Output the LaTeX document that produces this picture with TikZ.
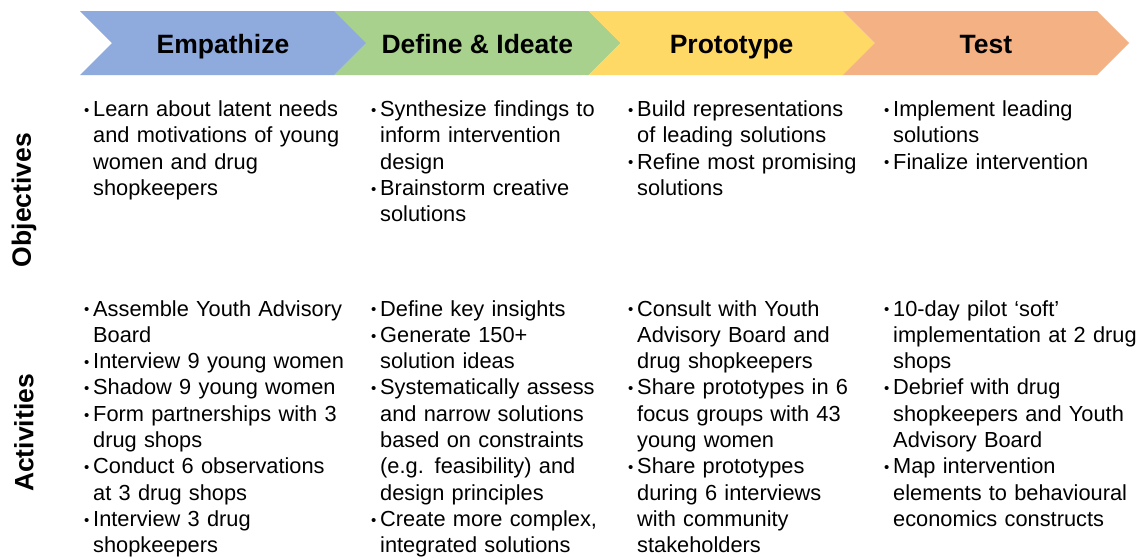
\documentclass[tikz,border=0pt]{standalone}
\usepackage{fontspec}
\setmainfont{Liberation Sans}
\definecolor{cblue}{HTML}{8FAADC}
\definecolor{cgreen}{HTML}{A9D18E}
\definecolor{cyellow}{HTML}{FFD966}
\definecolor{corange}{HTML}{F4B183}
\newcommand\bl[1]{\par\hangindent=10pt\hangafter=1\noindent\strut\makebox[10pt][l]{\hspace{1pt}\raisebox{1.2pt}{\fontsize{15}{15}\selectfont•}}#1\par}
\tikzset{
  chev/.style={draw=none},
  head/.style={anchor=base, font=\bfseries\fontsize{26.5}{30}\selectfont},
  side/.style={rotate=90, font=\bfseries\fontsize{26.5}{30}\selectfont},
  body/.style={anchor=north west, inner sep=0pt, text width=320pt, align=left,
    font=\fontsize{21.8}{26.3}\selectfont},
}
\begin{document}
\begin{tikzpicture}[x=1pt,y=-1pt]
\clip (0,0) rectangle (1139,558);
\fill[white] (0,0) rectangle (1139,558);
% chevrons
\foreach \i/\c in {0/cblue,1/cgreen,2/cyellow,3/corange}{
  \pgfmathsetmacro\xo{80+254.3*\i}
  \fill[\c] (\xo,11) -- ({\xo+254.3},11) -- ({\xo+286.3},43) -- ({\xo+254.3},75) -- (\xo,75) -- ({\xo+32},43) -- cycle;
}
\node[head] (h1) at (223,53.5) {Empathize};
\node[head] (h2) at (477.3,53.5) {Define \& Ideate};
\node[head] (h3) at (731.6,53.5) {Prototype};
\node[head] (h4) at (985.9,53.5) {Test};
% side labels
\node[side] (lobj) at (24,200) {Objectives};
\node[side] (lact) at (24,433) {Activities};
% objectives
\node[body] (o1) at (83,90) {\bl{Learn about latent needs\newline and motivations of young\newline women and drug\newline shopkeepers}};
\node[body] (o2) at (370,90) {\bl{Synthesize findings to\newline inform intervention\newline design}\bl{Brainstorm creative\newline solutions}};
\node[body] (o3) at (627,90) {\bl{Build representations\newline of leading solutions}\bl{Refine most promising\newline solutions}};
\node[body] (o4) at (883,90) {\bl{Implement leading\newline solutions}\bl{Finalize intervention}};
% activities
\node[body] (a1) at (83,289.5) {\bl{Assemble Youth Advisory\newline Board}\bl{Interview 9 young women}\bl{Shadow 9 young women}\bl{Form partnerships with 3\newline drug shops}\bl{Conduct 6 observations\newline at 3 drug shops}\bl{Interview 3 drug\newline shopkeepers}};
\node[body] (a2) at (370,289.5) {\bl{Define key insights}\bl{Generate 150+\newline solution ideas}\bl{Systematically assess\newline and narrow solutions\newline based on constraints\newline (e.g. feasibility) and\newline design principles}\bl{Create more complex,\newline integrated solutions}};
\node[body] (a3) at (627,289.5) {\bl{Consult with Youth\newline Advisory Board and\newline drug shopkeepers}\bl{Share prototypes in 6\newline focus groups with 43\newline young women}\bl{Share prototypes\newline during 6 interviews\newline with community\newline stakeholders}};
\node[body] (a4) at (883,289.5) {\bl{10-day pilot ‘soft’\newline implementation at 2 drug\newline shops}\bl{Debrief with drug\newline shopkeepers and Youth\newline Advisory Board}\bl{Map intervention\newline elements to behavioural\newline economics constructs}};
\end{tikzpicture}
\end{document}
